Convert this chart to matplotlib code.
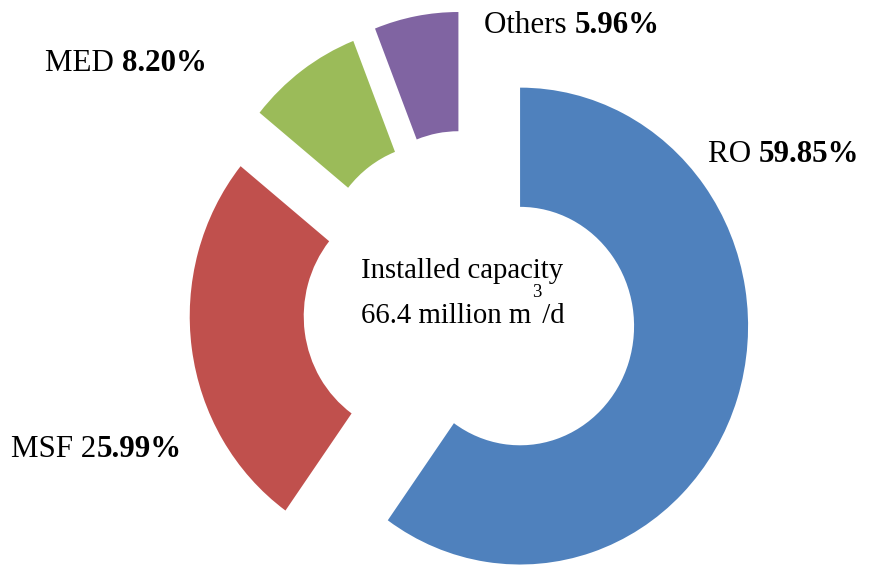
import matplotlib.pyplot as plt

plt.rcParams['font.family'] = ['Liberation Serif', 'DejaVu Serif']

processes = ['RO', 'MSF', 'MED', 'Others']
shares = [59.85, 25.99, 8.20, 5.96]
label_plain = ['RO ', 'MSF 2', 'MED ', 'Others ']
label_bold = ['59.85%', '5.99%', '8.20%', '5.96%']

colors = ['#4F81BD', '#C0504D', '#9BBB59', '#8064A2']
explode = [0.235, 0.227, 0.24, 0.25]
label_pos = [(1.048, 0.646), (-2.009, -0.591), (-1.86, 1.031), (0.066, 1.191)]

fig = plt.figure(figsize=(8.79, 5.67), dpi=100)
ax = fig.add_axes([0, 0, 1, 1])

ax.pie(shares, colors=colors, startangle=90, counterclock=False, radius=1,
       explode=explode, wedgeprops=dict(width=0.5, linewidth=0))
ax.set_aspect('auto')
ax.set_xlim(-2.057, 1.798)
ax.set_ylim(-1.082, 1.296)
ax.axis('off')

# category labels: plain name followed by bold percentage
for (x, y), plain, bold in zip(label_pos, label_plain, label_bold):
    t = ax.text(x, y, plain, ha='left', va='center', fontsize=22.3)
    ax.annotate(bold, xy=(1, 0), xycoords=t, ha='left', va='bottom',
                fontsize=22.3, fontweight='bold')

# centre caption
ax.text(-0.474, 0.16, 'Installed capacity', ha='left', va='center', fontsize=20.7)
t2 = ax.text(-0.474, -0.028, '66.4 million m', ha='left', va='center', fontsize=20.7)
ax.annotate('3', xy=(1, 1), xycoords=t2, xytext=(0.5, 7), textcoords='offset points',
            ha='left', va='center', fontsize=13.5)
ax.annotate(' /d', xy=(1, 0), xycoords=t2, xytext=(2.5, 0), textcoords='offset points',
            ha='left', va='bottom', fontsize=20.7)

fig.savefig('out.png', dpi=100)
